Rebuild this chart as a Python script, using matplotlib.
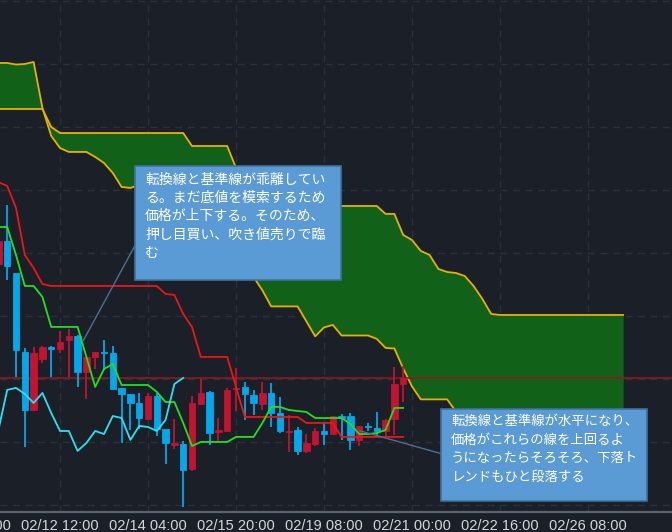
import numpy as np
import matplotlib
matplotlib.use('Agg')
import matplotlib.pyplot as plt
import matplotlib.transforms as mtransforms
from matplotlib.patches import Rectangle

# 4H candles, bar index 0 = 02/12 12:00
first_bar = -7

open_ = [107.913, 108.095, 107.841, 107.214, 106.754, 107.159, 107.254, 107.238, 107.310, 107.341,
         107.056, 107.175, 107.214, 107.206, 106.929, 106.881, 106.810, 106.683, 106.865, 106.603,
         106.476, 106.484, 106.286, 106.802, 106.897, 106.579, 106.587, 106.921, 106.937, 106.873,
         106.802, 106.889, 106.730, 106.579, 106.595, 106.429, 106.484, 106.587, 106.563, 106.706,
         106.706, 106.516, 106.627, 106.611, 106.587, 106.683, 106.960]
high_ = [108.135, 108.381, 107.841, 107.246, 107.254, 107.262, 107.262, 107.381, 107.397, 107.349,
         107.175, 107.214, 107.310, 107.262, 106.929, 106.881, 106.889, 106.889, 106.889, 106.603,
         106.683, 106.508, 106.865, 107.000, 106.905, 106.690, 106.929, 107.087, 106.976, 106.913,
         106.976, 106.968, 106.857, 106.714, 106.619, 106.563, 106.611, 106.659, 106.706, 106.722,
         106.730, 106.627, 106.651, 106.738, 106.683, 107.095, 107.103]
low_ = [107.881, 107.786, 107.016, 106.460, 106.754, 107.127, 107.016, 107.206, 107.016, 106.937,
        106.841, 107.079, 107.071, 106.913, 106.492, 106.595, 106.603, 106.683, 106.548, 106.325,
        106.444, 105.984, 106.270, 106.794, 106.476, 106.508, 106.587, 106.746, 106.675, 106.714,
        106.754, 106.619, 106.571, 106.421, 106.397, 106.413, 106.468, 106.476, 106.563, 106.516,
        106.437, 106.468, 106.587, 106.540, 106.540, 106.556, 106.817]
close_ = [108.095, 107.897, 107.230, 106.754, 107.206, 107.254, 107.238, 107.294, 107.341, 107.056,
          107.175, 107.214, 107.206, 106.921, 106.881, 106.810, 106.690, 106.865, 106.603, 106.492,
          106.492, 106.278, 106.810, 106.889, 106.571, 106.595, 106.913, 106.929, 106.881, 106.810,
          106.889, 106.730, 106.587, 106.587, 106.429, 106.492, 106.587, 106.563, 106.706, 106.690,
          106.516, 106.627, 106.619, 106.587, 106.675, 106.960, 107.008]

# 転換線 / 基準線
tenkan = [108.206, 108.206, 107.984, 107.738, 107.738, 107.651, 107.413, 107.413, 107.413, 107.413,
          107.175, 106.937, 107.079, 107.119, 106.952, 106.952, 106.952, 106.952, 106.897, 106.817,
          106.817, 106.651, 106.468, 106.500, 106.500, 106.500, 106.500, 106.540, 106.540, 106.540,
          106.651, 106.778, 106.778, 106.754, 106.746, 106.738, 106.690, 106.690, 106.690, 106.690,
          106.643, 106.563, 106.563, 106.571, 106.595, 106.770, 106.770]
kijun = [108.563, 108.532, 108.357, 107.984, 107.881, 107.754, 107.738, 107.738, 107.738, 107.738,
         107.738, 107.738, 107.738, 107.738, 107.738, 107.738, 107.738, 107.738, 107.738, 107.675,
         107.667, 107.516, 107.413, 107.175, 107.175, 107.175, 107.175, 106.937, 106.698, 106.698,
         106.698, 106.698, 106.698, 106.698, 106.698, 106.651, 106.651, 106.651, 106.651, 106.540,
         106.540, 106.540, 106.540, 106.540, 106.540, 106.540, 106.540]
chikou_lag = 25

# 先行スパン (bars -7 .. 64)
span_a = [109.508, 109.508, 109.496, 109.500, 109.516, 109.151, 108.929, 108.833, 108.802, 108.802,
          108.802, 108.762, 108.714, 108.635, 108.524, 108.516, 108.540, 108.500, 108.460, 108.421,
          108.421, 108.421, 108.421, 108.397, 108.389, 108.385, 108.369, 108.171, 107.861, 107.810,
          107.703, 107.576, 107.576, 107.576, 107.576, 107.457, 107.338, 107.409, 107.429, 107.345,
          107.345, 107.345, 107.345, 107.318, 107.246, 107.242, 107.084, 106.941, 106.838, 106.838,
          106.838, 106.838, 106.739, 106.619, 106.619, 106.675, 106.738, 106.738, 106.726, 106.722,
          106.695, 106.671, 106.671, 106.671, 106.615, 106.592, 106.552, 106.552, 106.556, 106.568,
          106.655, 106.655]
span_b = [109.143, 109.143, 109.143, 109.143, 109.143, 109.143, 109.000, 108.952, 108.952, 108.952,
          108.952, 108.952, 108.952, 108.952, 108.952, 108.952, 108.952, 108.952, 108.952, 108.952,
          108.952, 108.952, 108.849, 108.849, 108.849, 108.849, 108.849, 108.675, 108.579, 108.500,
          108.421, 108.373, 108.373, 108.373, 108.373, 108.373, 108.373, 108.373, 108.373, 108.373,
          108.373, 108.373, 108.373, 108.373, 108.310, 108.310, 108.143, 108.103, 108.016, 107.984,
          107.873, 107.849, 107.841, 107.817, 107.738, 107.635, 107.516, 107.508, 107.508, 107.508,
          107.508, 107.508, 107.508, 107.508, 107.508, 107.508, 107.508, 107.508, 107.508, 107.508,
          107.508, 107.508]

tick_bars = [-10, 0, 10, 20, 30, 40, 50, 60]
tick_labels = ['02/09 20:00', '02/12 12:00', '02/14 04:00', '02/15 20:00',
               '02/19 08:00', '02/21 00:00', '02/22 16:00', '02/26 08:00']

note1 = '転換線と基準線が乖離してい\nる。まだ底値を模索するため\n価格が上下する。そのため、\n押し目買い、吹き値売りで臨\nむ'
note2 = '転換線と基準線が水平になり、\n価格がこれらの線を上回るよ\nうになったらそろそろ、下落ト\nレンドもひと段落する'

bg = '#1b1f28'
up_col = '#c4122f'
down_col = '#00a8ec'

fig = plt.figure(figsize=(6.72, 5.32), dpi=100, facecolor=bg)
ax = fig.add_axes([0, 20/532, 1, 512/532])
ax.set_facecolor(bg)

x = np.arange(first_bar, first_bar + len(close_))
xc = np.arange(first_bar, first_bar + len(span_a))
o = np.array(open_); c = np.array(close_)
cols = np.where(c >= o, up_col, down_col)

# grid
for t in tick_bars:
    ax.axvline(t, color='#2b313c', lw=1, ls=(0, (5, 4)), zorder=0)
for p in np.arange(106.0, 110.01, 0.5):
    ax.axhline(p, color='#2b313c', lw=1, ls=(0, (5, 4)), zorder=0)

# cloud
ax.fill_between(xc, span_a, span_b, color='#116118', lw=0, zorder=1)
ax.plot(xc, span_a, color='#e8b000', lw=1.3, zorder=2)
ax.plot(xc, span_b, color='#e8b000', lw=1.3, zorder=2)

# last price line
ax.axhline(close_[-1], color='#8a1c1c', lw=1.2, zorder=2)

# candles
ax.vlines(x, low_, high_, colors=cols, lw=1.3, zorder=3)
ax.bar(x, np.abs(c - o), bottom=np.minimum(o, c), width=0.74, color=cols,
       edgecolor=cols, linewidth=0.6, zorder=4)

ax.plot(x, kijun, color='#f01414', lw=1.3, zorder=5)
ax.plot(x, tenkan, color='#1ee21e', lw=1.3, zorder=5)
ax.plot(x - chikou_lag, close_, color='#27e3f0', lw=1.3, zorder=5)

ax.set_xlim(-6.82, 69.55)
ax.set_ylim(105.944, 110.008)
ax.set_xticks([]); ax.set_yticks([])
for s in ['top', 'left', 'right']:
    ax.spines[s].set_visible(False)
ax.spines['bottom'].set_color('#5a626e')
ax.spines['bottom'].set_linewidth(1.6)

trans = mtransforms.blended_transform_factory(ax.transData, ax.transAxes)
for t, lab in zip(tick_bars, tick_labels):
    ax.text(t, -0.013, lab, transform=trans, ha='center', va='top', color='#d4d6da',
            fontsize=10.5, family='Liberation Sans', clip_on=False)

# notes
jp = ['Noto Sans CJK JP', 'DejaVu Sans']
ax.annotate('', xy=(2.5, 107.286), xytext=(0.2158, 0.5566), textcoords='axes fraction',
            arrowprops=dict(arrowstyle='-', color='#4f6f90', lw=1), zorder=6)
ax.annotate('', xy=(33.75, 106.595), xytext=(0.6637, 0.1113), textcoords='axes fraction',
            arrowprops=dict(arrowstyle='-', color='#4f6f90', lw=1), zorder=6)

ax.add_patch(Rectangle((135/672, 1 - 280/512), 206/672, 114/512, transform=ax.transAxes,
                       facecolor='#5b9bd5', edgecolor='#41719c', lw=1.2, zorder=7))
ax.add_patch(Rectangle((441/672, 1 - 501/512), 206/672, 92/512, transform=ax.transAxes,
                       facecolor='#5b9bd5', edgecolor='#41719c', lw=1.2, zorder=7))
ax.text(145/672, 1 - 173/512, note1, transform=ax.transAxes, ha='left', va='top',
        color='white', fontsize=10, family=jp, linespacing=1.38, zorder=8)
ax.text(451/672, 1 - 414/512, note2, transform=ax.transAxes, ha='left', va='top',
        color='white', fontsize=9.6, family=jp, linespacing=1.42, zorder=8)

fig.savefig('out.png', dpi=100, facecolor=bg)
